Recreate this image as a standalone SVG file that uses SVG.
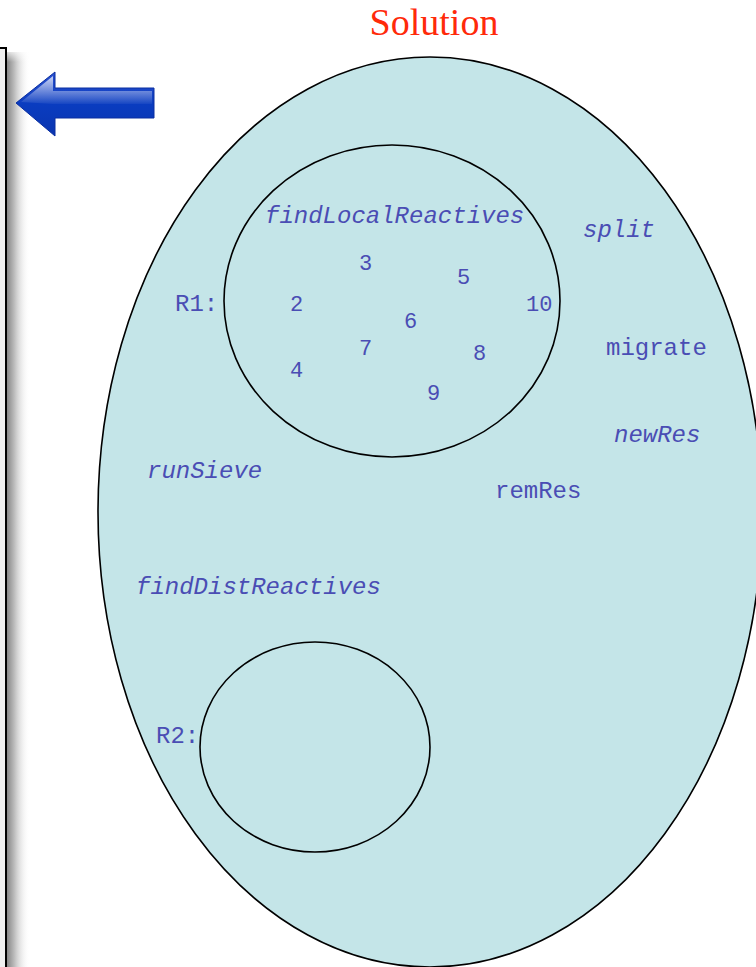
<svg xmlns="http://www.w3.org/2000/svg" width="756" height="967" viewBox="0 0 756 967">
  <defs>
    <linearGradient id="shadow" x1="0" y1="0" x2="1" y2="0">
      <stop offset="0" stop-color="#808080"/>
      <stop offset="0.35" stop-color="#bdbdbd"/>
      <stop offset="1" stop-color="#ffffff" stop-opacity="0"/>
    </linearGradient>
    <linearGradient id="shadowTop" x1="0" y1="0" x2="0" y2="1">
      <stop offset="0" stop-color="#ffffff"/>
      <stop offset="1" stop-color="#ffffff" stop-opacity="0"/>
    </linearGradient>
    <linearGradient id="arrowFill" x1="0" y1="0" x2="0" y2="1">
      <stop offset="0" stop-color="#2a50d0"/>
      <stop offset="0.5" stop-color="#0a3cc0"/>
      <stop offset="1" stop-color="#0a35b0"/>
    </linearGradient>
    <linearGradient id="arrowGloss" x1="0" y1="0" x2="0" y2="1">
      <stop offset="0" stop-color="#ffffff" stop-opacity="0.75"/>
      <stop offset="1" stop-color="#ffffff" stop-opacity="0.05"/>
    </linearGradient>
  </defs>
  <style>
    .set { fill: #c4e5e8; stroke: #000; stroke-width: 1.6; }
    .lbl { font-family: "Liberation Mono", "Courier New", monospace; font-size: 24px; fill: #4a4db4; }
    .num { font-size: 22px; }
    .fn { font-style: italic; }
    .title { font-family: "Liberation Serif", "Times New Roman", serif; font-size: 38px; fill: #ff2a0a; }
  </style>

  <rect width="756" height="967" fill="#ffffff"/>

  <!-- side panel, cut off at the left edge -->
  <g id="panel">
    <rect x="6" y="52" width="24" height="915" fill="url(#shadow)"/>
    <rect x="6" y="48" width="24" height="14" fill="url(#shadowTop)"/>
    <rect x="-10" y="48" width="16" height="930" fill="#efefef" stroke="#000" stroke-width="2"/>
  </g>

  <!-- back arrow -->
  <g id="back-arrow">
    <path d="M16,103 L55,72 L55,88 L154,88 L154,118 L55,118 L55,136 Z" fill="url(#arrowFill)" stroke="#0a2ea0" stroke-width="1"/>
    <path d="M21,102 L53,76 L53,91 L152,91 L152,104 L53,104 Z" fill="url(#arrowGloss)"/>
  </g>

  <text class="title" x="434" y="35" text-anchor="middle">Solution</text>

  <g id="solution">
    <ellipse class="set" cx="430" cy="512" rx="332" ry="455"/>
  </g>

  <g id="R1">
    <ellipse class="set" cx="392" cy="301" rx="168" ry="156"/>
    <text class="lbl" x="175" y="311">R1:</text>
    <text class="lbl fn" x="265" y="223">findLocalReactives</text>
    <text class="lbl num" x="290" y="311">2</text>
    <text class="lbl num" x="359" y="270">3</text>
    <text class="lbl num" x="290" y="377">4</text>
    <text class="lbl num" x="457" y="284">5</text>
    <text class="lbl num" x="404" y="328">6</text>
    <text class="lbl num" x="359" y="355">7</text>
    <text class="lbl num" x="473" y="360">8</text>
    <text class="lbl num" x="427" y="400">9</text>
    <text class="lbl num" x="526" y="311">10</text>
  </g>

  <g id="R2">
    <ellipse class="set" cx="315" cy="747" rx="115" ry="105"/>
    <text class="lbl" x="156" y="743">R2:</text>
  </g>

  <g id="functions">
    <text class="lbl fn" x="583" y="237">split</text>
    <text class="lbl" x="606" y="355">migrate</text>
    <text class="lbl fn" x="614" y="442">newRes</text>
    <text class="lbl" x="495" y="498">remRes</text>
    <text class="lbl fn" x="147" y="478">runSieve</text>
    <text class="lbl fn" x="136" y="594">findDistReactives</text>
  </g>

  <g id="connectors"></g>
</svg>
